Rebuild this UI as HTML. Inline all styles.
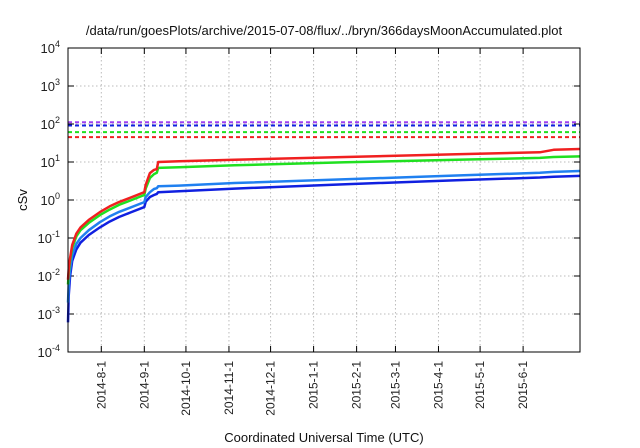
<!DOCTYPE html>
<html><head><meta charset="utf-8"><style>
body{margin:0;background:#fff;}
svg{display:block;font-family:"Liberation Sans",sans-serif;}
</style></head><body>
<svg id="c" width="640" height="448"></svg>
<script>
const days=[0,0.5,1.5,3,6,9,15,23,30,37,45,55,56,59,62,64,65,80,120,200,280,340,350,369];
const redVals=[0.008,0.015,0.03,0.065,0.13,0.19,0.3,0.48,0.68,0.89,1.15,1.6,2.5,5.1,6.2,6.5,10,10.5,11.5,13.5,16,18,21,22];
const greenVals=[0.006,0.012,0.025,0.055,0.11,0.16,0.25,0.4,0.56,0.75,0.97,1.35,2,3.8,4.8,5.2,7,7.3,8.2,9.8,11.5,12.8,13.5,14];
const lblueVals=[0.002,0.006,0.015,0.035,0.07,0.1,0.16,0.26,0.37,0.49,0.63,0.88,1.2,1.6,1.95,2.05,2.3,2.4,2.8,3.5,4.4,5.2,5.5,5.8];
const blueVals=[0.0006,0.003,0.01,0.025,0.05,0.075,0.12,0.19,0.27,0.36,0.47,0.65,0.9,1.2,1.35,1.45,1.6,1.7,2,2.6,3.3,3.9,4.1,4.3];
const limits=[111,91,61,45];
const limitColors=["#a040f0","#1020e0","#20e020","#f02020"];
const yTicks=[-4,-3,-2,-1,0,1,2,3,4];
const xTickLabels=["2014-8-1","2014-9-1","2014-10-1","2014-11-1","2014-12-1","2015-1-1","2015-2-1","2015-3-1","2015-4-1","2015-5-1","2015-6-1"];
const xTickDays=[24,55,85,116,146,177,208,236,267,297,328];

const L=68,R=580,T=48,B=352,NS="http://www.w3.org/2000/svg";
const svg=document.getElementById('c');
const xs=d=>L+d*(R-L)/369;
const ys=v=>B-(Math.log10(v)+4)*(B-T)/8;
function mk(t,a){const e=document.createElementNS(NS,t);for(const k in a)e.setAttribute(k,a[k]);svg.appendChild(e);return e;}
yTicks.forEach((p,i)=>{const y=B-(p+4)*(B-T)/8;
 if(i>0&&i<yTicks.length-1){const g=mk('line',{x1:L,x2:R,y1:y,y2:y,stroke:'#bbb','stroke-dasharray':'1.5,2.5','stroke-width':1});
 }
 mk('line',{x1:L,x2:L+6,y1:y,y2:y,stroke:'#000'});mk('line',{x1:R,x2:R-6,y1:y,y2:y,stroke:'#000'});
 const t=mk('text',{x:L-8,y:y+5,'text-anchor':'end','font-size':13,fill:'#222'});
 
 t.innerHTML='10<tspan dy="-6" font-size="9">'+p+'</tspan>';
});
xTickDays.forEach((d,i)=>{const x=xs(d);
 const g=mk('line',{x1:x,x2:x,y1:T,y2:B,stroke:'#bbb','stroke-dasharray':'1.5,2.5'});
 
 mk('line',{x1:x,x2:x,y1:B,y2:B-6,stroke:'#000'});mk('line',{x1:x,x2:x,y1:T,y2:T+6,stroke:'#000'});
 const t=mk('text',{x:0,y:0,'text-anchor':'end','font-size':12,fill:'#222',transform:`translate(${x+4},${B+9}) rotate(-90)`});
 
 t.textContent=xTickLabels[i];
});
limits.forEach((v,i)=>{const y=ys(v);
 const l=mk('line',{x1:L,x2:R,y1:y,y2:y,stroke:limitColors[i],'stroke-width':2,'stroke-dasharray':'4,3'});
 
});
[[blueVals,'#1020e0','blue-series'],[lblueVals,'#2080f0','light-blue-series'],[greenVals,'#20e020','green-series'],[redVals,'#f02020','red-series']].forEach(s=>{
 const pts=days.map((d,i)=>xs(d).toFixed(1)+','+ys(s[0][i]).toFixed(1)).join(' ');
 const p=mk('polyline',{points:pts,fill:'none',stroke:s[1],'stroke-width':2.5,'stroke-linejoin':'round'});
 
});
const f=mk('rect',{x:L,y:T,width:R-L,height:B-T,fill:'none',stroke:'#000','stroke-width':1});

let t=mk('text',{x:324,y:35,'text-anchor':'middle','font-size':13,fill:'#111'});

t.textContent='/data/run/goesPlots/archive/2015-07-08/flux/../bryn/366daysMoonAccumulated.plot';
t=mk('text',{x:0,y:0,'text-anchor':'middle','font-size':13,fill:'#111',transform:'translate(27,200) rotate(-90)'});

t.textContent='cSv';
t=mk('text',{x:324,y:442,'text-anchor':'middle','font-size':13,fill:'#111'});

t.textContent='Coordinated Universal Time (UTC)';
</script>
</body></html>
